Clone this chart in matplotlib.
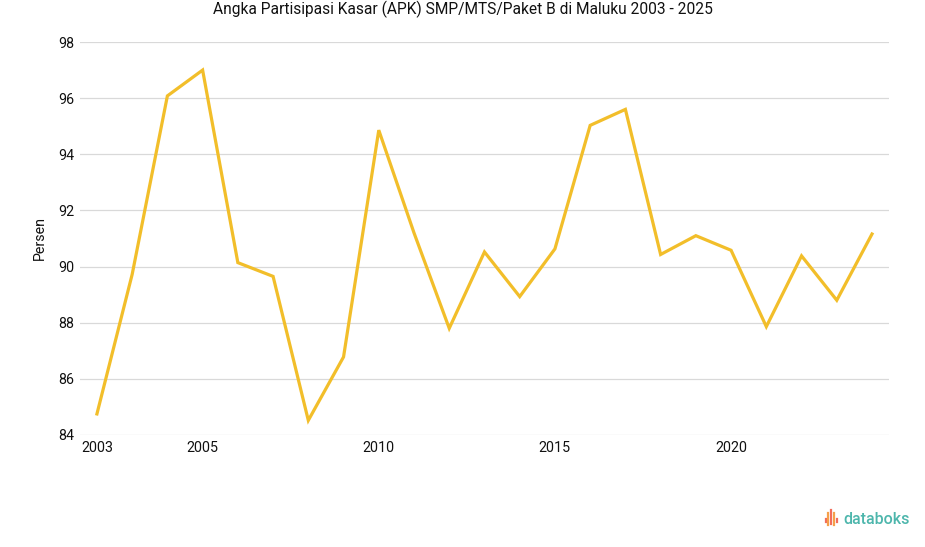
import matplotlib
matplotlib.use('Agg')
import matplotlib.pyplot as plt
from matplotlib.lines import Line2D

plt.rcParams['font.family'] = ['Roboto', 'DejaVu Sans']

# data APK SMP/MTS/Paket B Maluku
years = list(range(2003, 2026))
apk = [84.75, 89.72, 96.08, 97.0, 90.14, 89.65, 84.52, 86.78, 94.86, 91.2,
       87.8, 90.52, 88.93, 90.63, 95.03, 95.6, 90.43, 91.1, 90.58, 87.86,
       90.38, 88.8, 91.16]

# posisi dan label sumbu x (seperti di gambar asli)
tick_idx = [0, 3, 8, 13, 18]
tick_labels = ['2003', '2005', '2010', '2015', '2020']
yticks = [84, 86, 88, 90, 92, 94, 96, 98]

fig = plt.figure(figsize=(9.25, 5.47), dpi=100)
ax = fig.add_axes([0.0865, 0.2048, 0.8745, 0.7184])

x = list(range(len(years)))
ax.plot(x, apk, color='#F2BE2A', linewidth=2.3, solid_joinstyle='miter', clip_on=False)

ax.set_xlim(-0.48, 22.48)
ax.set_ylim(84, 98)
ax.set_yticks(yticks)
ax.set_yticklabels([str(v) for v in yticks])
ax.set_xticks(tick_idx)
ax.set_xticklabels(tick_labels)
ax.grid(axis='y', color='#d9d9d9', linewidth=0.9)
ax.set_axisbelow(True)
for s in ax.spines.values():
    s.set_visible(False)
ax.tick_params(axis='both', length=0, labelsize=10.3, colors='#111111')
ax.tick_params(axis='y', pad=4)
ax.tick_params(axis='x', pad=4)
ax.set_ylabel('Persen', fontsize=10.3, color='#111111', labelpad=8)

fig.text(0.5, 0.982, 'Angka Partisipasi Kasar (APK) SMP/MTS/Paket B di Maluku 2003 - 2025',
         ha='center', va='center', fontsize=11.2, color='#111111')

# logo databoks
icon_cols = ['#F26D5B', '#F5A04A', '#F26D5B', '#F5A04A', '#F26D5B']
icon_x = [0.8925, 0.8955, 0.8985, 0.9015, 0.9045]
icon_h = [(0.045, 0.052), (0.040, 0.062), (0.042, 0.068), (0.040, 0.062), (0.045, 0.052)]
for xi, c, (y0, y1) in zip(icon_x, icon_cols, icon_h):
    fig.add_artist(Line2D([xi, xi], [y0, y1], color=c, linewidth=1.6))
fig.text(0.912, 0.051, 'databoks', ha='left', va='center', fontsize=11.5,
         color='#4DB6AC', fontweight='medium')

fig.savefig('out.png', dpi=100)
